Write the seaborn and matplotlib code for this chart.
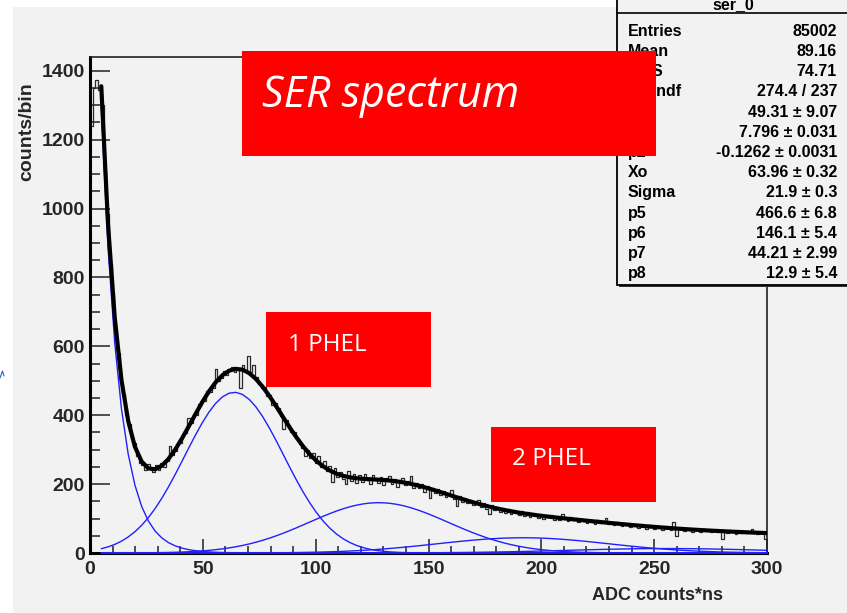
import numpy as np
import pandas as pd
import matplotlib
matplotlib.use("Agg")
import matplotlib.pyplot as plt
import seaborn as sns
from matplotlib.patches import Rectangle
from matplotlib.lines import Line2D
from matplotlib.ticker import MultipleLocator

# ---------------------------------------------------------------- data
BIN_WIDTH = 1.2  # ADC counts*ns per bin, 250 bins over 0..300

counts = [
    1240, 1350, 1372, 1345, 1300, 1110, 985, 840, 755, 645,
    580, 500, 462, 400, 375, 332, 318, 282, 262, 255,
    240, 258, 247, 236, 255, 241, 262, 251, 266, 310,
    284, 296, 320, 318, 345, 348, 392, 376, 404, 402,
    432, 443, 440, 470, 466, 480, 534, 498, 508, 527,
    518, 533, 540, 526, 538, 480, 545, 530, 572, 525,
    545, 512, 490, 478, 482, 455, 460, 430, 436, 420,
    398, 360, 385, 372, 350, 352, 330, 316, 305, 282,
    298, 276, 290, 262, 281, 250, 266, 238, 252, 205,
    247, 221, 236, 214, 200, 238, 209, 230, 203, 226,
    205, 229, 212, 199, 226, 214, 203, 221, 196, 218,
    224, 201, 215, 193, 212, 219, 196, 208, 224, 190,
    203, 188, 199, 178, 194, 160, 189, 174, 186, 168,
    179, 163, 174, 183, 158, 137, 166, 149, 160, 144,
    155, 139, 151, 153, 134, 146, 129, 113, 138, 124,
    134, 120, 131, 117, 128, 113, 125, 121, 109, 122,
    108, 119, 104, 115, 112, 101, 113, 98, 110, 104,
    111, 97, 106, 95, 113, 102, 92, 104, 96, 101,
    89, 100, 93, 86, 97, 90, 84, 95, 88, 92,
    102, 83, 89, 80, 91, 86, 78, 87, 82, 76,
    84, 79, 73, 82, 77, 71, 80, 76, 70, 79,
    75, 68, 77, 72, 66, 90, 49, 74, 69, 65,
    71, 66, 62, 70, 67, 60, 69, 64, 68, 61,
    66, 62, 67, 41, 63, 59, 65, 61, 56, 64,
    59, 63, 57, 61, 70, 58, 55, 61, 59, 42,
]

# fit result: constant + exponential pedestal tail + 4 photoelectron gaussians
par_names = ["p0", "p1", "p2", "Xo", "Sigma", "p5", "p6", "p7", "p8"]
par_values = [49.31, 7.796, -0.1262, 63.96, 21.9, 466.6, 146.1, 44.21, 12.9]
par_errors = ["9.07", "0.031", "0.0031", "0.32", "0.3", "6.8", "5.4", "2.99", "5.4"]
par_labels = ["49.31", "7.796", "-0.1262", "63.96", "21.9", "466.6", "146.1", "44.21", "12.9"]
fit_range = (5.0, 300.0)

stat_names = ["Entries", "Mean", "RMS", "\u03c7\u00b2 / ndf"]
stat_values = ["85002", "89.16", "74.71", "274.4 / 237"]

hist_name = "ser_0"
x_label = "ADC counts*ns"
y_label = "counts/bin"

# ---------------------------------------------------------------- style
sns.set_theme(style="ticks")
plt.rcParams["font.family"] = ["Liberation Sans", "DejaVu Sans"]
plt.rcParams["font.weight"] = "bold"

W, H = 847, 613


def fx(px):
    return px / W


def fy(py):
    return 1 - py / H


fig = plt.figure(figsize=(W / 100, H / 100), dpi=100)
fig.patch.set_facecolor("white")
fig.add_artist(Rectangle((fx(13), 0), 1 - fx(13), fy(7), transform=fig.transFigure,
                         facecolor="#f2f2f2", edgecolor="none", zorder=-10))

ax = fig.add_axes([fx(90), fy(553), fx(767) - fx(90), (553 - 57) / H])
ax.set_facecolor("#f2f2f2")

# ---------------------------------------------------------------- histogram
edges = [i * BIN_WIDTH for i in range(len(counts) + 1)]
hist_df = pd.DataFrame({"adc": [e + BIN_WIDTH / 2 for e in edges[:-1]], "n": counts})
sns.histplot(data=hist_df, x="adc", weights="n", bins=edges, element="step",
             fill=False, color="#2a2a2a", linewidth=0.9, ax=ax, zorder=2)

# ---------------------------------------------------------------- fit curves
p0, p1, p2, xo, sigma, p5, p6, p7, p8 = par_values
xf = np.linspace(fit_range[0], fit_range[1], 100)


def gauss(x, amp, mu, sd):
    return amp * np.exp(-0.5 * ((x - mu) / sd) ** 2)


components = [
    np.exp(p1 + p2 * xf),
    gauss(xf, p5, xo, sigma),
    gauss(xf, p6, 2 * xo, np.sqrt(2) * sigma),
    gauss(xf, p7, 3 * xo, np.sqrt(3) * sigma),
    gauss(xf, p8, 4 * xo, 2 * sigma),
]
for comp in components:
    sns.lineplot(x=xf, y=comp, color="#2020ff", linewidth=1.0, ax=ax,
                 estimator=None, zorder=3, clip_on=False)

total = p0 + np.sum(components, axis=0)
sns.lineplot(x=xf, y=total, color="black", linewidth=3.0, ax=ax,
             estimator=None, zorder=4)

# ---------------------------------------------------------------- axes
ax.set_xlim(0, 300)
ax.set_ylim(0, 1440)
ax.xaxis.set_major_locator(MultipleLocator(50))
ax.xaxis.set_minor_locator(MultipleLocator(10))
ax.yaxis.set_major_locator(MultipleLocator(200))
ax.yaxis.set_minor_locator(MultipleLocator(50))
ax.tick_params(axis="both", which="both", direction="in", top=False, right=False,
               color="#222222", width=1.1)
ax.tick_params(axis="x", which="major", length=10, pad=5.5, labelsize=14)
ax.tick_params(axis="x", which="minor", length=5)
ax.tick_params(axis="y", which="major", length=14.4, pad=3.6, labelsize=14)
ax.tick_params(axis="y", which="minor", length=7.2)
for side in ["left", "bottom"]:
    ax.spines[side].set_linewidth(2.2)
    ax.spines[side].set_color("black")
for side in ["top", "right"]:
    ax.spines[side].set_linewidth(1.2)
    ax.spines[side].set_color("#222222")

ax.set_xlabel(x_label, loc="right", fontsize=13, fontweight="bold")
ax.xaxis.set_label_coords((723 - 90) / 677, (553 - 586.5) / 496)
ax.set_ylabel(y_label, loc="top", fontsize=14, fontweight="bold")
ax.yaxis.set_label_coords((35.5 - 90) / 677, (553 - 82) / 496)

# ---------------------------------------------------------------- stats box
fig.add_artist(Rectangle((fx(619), fy(287)), fx(890) - fx(619), 330 / H,
                         transform=fig.transFigure, facecolor="#333333",
                         edgecolor="none", zorder=5))
fig.add_artist(Rectangle((fx(617), fy(285)), fx(890) - fx(617), 330 / H,
                         transform=fig.transFigure, facecolor="#f2f2f2",
                         edgecolor="black", linewidth=1.3, zorder=6))
fig.add_artist(Line2D([fx(617), 1.0], [fy(13), fy(13)], transform=fig.transFigure,
                      color="black", linewidth=1.2, zorder=7))
fig.text(fx(733), fy(9.5), hist_name, ha="center", va="baseline", fontsize=11.5,
         fontweight="bold", color="black", zorder=8)

rows_left = stat_names + par_names
rows_right = stat_values + [f"{v} \u00b1 {e}" for v, e in zip(par_labels, par_errors)]
for k, (lab, val) in enumerate(zip(rows_left, rows_right)):
    base = 30 + 20.2 * k + 5.8
    fig.text(fx(628), fy(base), lab, ha="left", va="baseline", fontsize=11.5,
             fontweight="bold", color="black", zorder=8)
    fig.text(fx(837), fy(base), val, ha="right", va="baseline", fontsize=11.5,
             fontweight="bold", color="black", zorder=8)

# ---------------------------------------------------------------- red labels
boxes = [
    ((242, 51, 656, 156), "SER spectrum", (262, 107), 31, "italic"),
    ((266, 312, 431, 387), "1 PHEL", (288, 351), 17.5, "normal"),
    ((491, 427, 656, 502), "2 PHEL", (512, 465), 17.5, "normal"),
]
for (x0, y0, x1, y1), text, (tx, ty), size, style in boxes:
    fig.add_artist(Rectangle((fx(x0), fy(y1)), fx(x1) - fx(x0), (y1 - y0) / H,
                             transform=fig.transFigure, facecolor="#ff0000",
                             edgecolor="none", zorder=10))
    fig.text(fx(tx), fy(ty), text, ha="left", va="baseline", fontsize=size,
             fontstyle=style, fontweight="normal", color="white",
             family=["Open Sans", "DejaVu Sans"], zorder=11)

# small stray mark at the left margin
fig.add_artist(Line2D([fx(0), fx(2.5), fx(4)], [fy(378), fy(371), fy(376)],
                      transform=fig.transFigure, color="#3060d0", linewidth=0.8,
                      zorder=5))

fig.savefig("out.png", dpi=100, facecolor=fig.get_facecolor())
